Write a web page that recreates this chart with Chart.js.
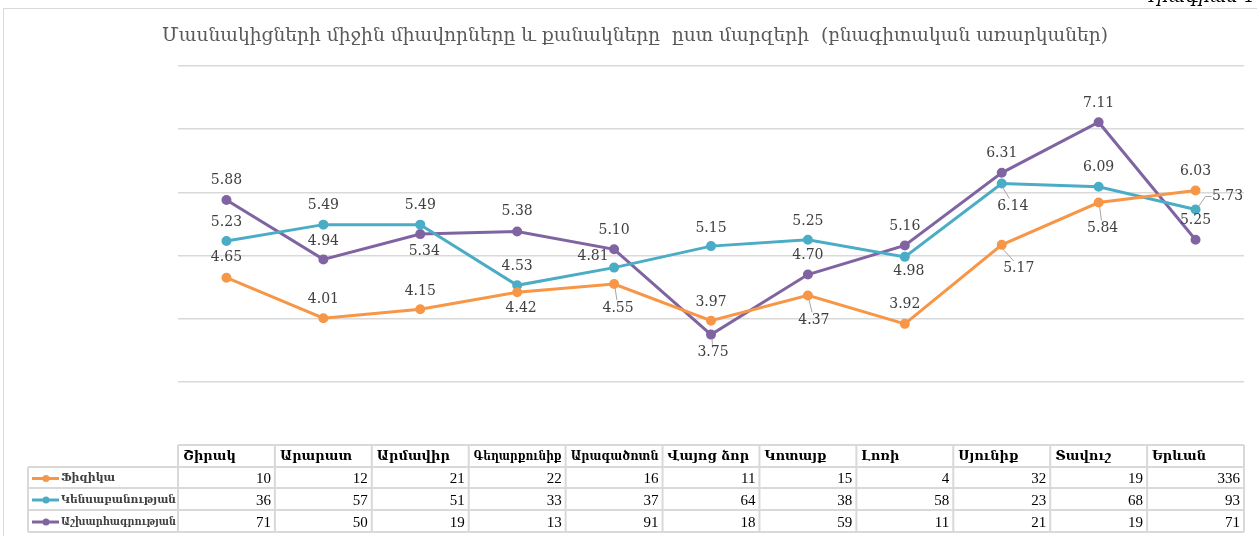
<!DOCTYPE html>
<html>
<head>
<meta charset="utf-8">
<script src="https://cdn.jsdelivr.net/npm/chart.js@4/dist/chart.umd.min.js"></script>
<style>
  body { margin: 0; background: #fff; }
  canvas { display: block; }
</style>
</head>
<body>
<canvas id="chart" width="1257" height="536"></canvas>
<script>
'use strict'

/* ------------------------------ Data ------------------------------ */

const chartTitle = 'Մասնակիցների միջին միավորները և քանակները  ըստ մարզերի  (բնագիտական առարկաներ)'
const caption = 'Դիագրամ 1'

const regions = ['Շիրակ', 'Արարատ', 'Արմավիր', 'Գեղարքունիք', 'Արագածոտն', 'Վայոց ձոր', 'Կոտայք', 'Լոռի', 'Սյունիք', 'Տավուշ', 'Երևան']
const subjects = ['Ֆիզիկա', 'Կենսաբանության', 'Աշխարհագրության']

// average scores (lines)
const physicsScores = [4.65, 4.01, 4.15, 4.42, 4.55, 3.97, 4.37, 3.92, 5.17, 5.84, 6.03]
const biologyScores = [5.23, 5.49, 5.49, 4.53, 4.81, 5.15, 5.25, 4.98, 6.14, 6.09, 5.73]
const geographyScores = [5.88, 4.94, 5.34, 5.38, 5.10, 3.75, 4.70, 5.16, 6.31, 7.11, 5.25]

// participant counts (data table)
const physicsCounts = [10, 12, 21, 22, 16, 11, 15, 4, 32, 19, 336]
const biologyCounts = [36, 57, 51, 33, 37, 64, 38, 58, 23, 68, 93]
const geographyCounts = [71, 50, 19, 13, 91, 18, 59, 11, 21, 19, 71]

const yTicks = [3, 4, 5, 6, 7, 8]

/* ------------------------------ Styles ------------------------------ */

const colors = ['#F79646', '#4BACC6', '#8064A2']
const gridColor = '#d9d9d9'
const textColor = '#404040'

// label offset from its point: [dx, dy, leader line]
const physicsLabelPos = [[0, -20], [0, -19], [0, -18], [4, 16], [4, 24, 1], [0, -18], [6, 25, 1], [0, -19], [17, 24, 1], [4, 26, 1], [0, -19]]
const biologyLabelPos = [[0, -19], [0, -19], [0, -19], [0, -19], [-21, -11], [0, -18], [0, -18], [4, 14], [11, 23, 1], [0, -19], [32, -13, 1]]
const geographyLabelPos = [[0, -20], [0, -18], [4, 17], [0, -20], [0, -19], [2, 18, 1], [0, -19], [0, -19], [0, -19], [0, -19], [0, -19]]

const labelPositions = [physicsLabelPos, biologyLabelPos, geographyLabelPos]
const tableCounts = [physicsCounts, biologyCounts, geographyCounts]

// table rows: header top, row lines, bottom
const rowLines = [445, 467, 488, 510, 532]
const legendLeft = 28

/* ------------------------------ Drawing helpers ------------------------------ */

function line (ctx, x1, y1, x2, y2) {
  ctx.beginPath()
  ctx.moveTo(x1, y1)
  ctx.lineTo(x2, y2)
  ctx.stroke()
}

function drawFrame (chart) {
  const ctx = chart.ctx
  ctx.save()
  ctx.fillStyle = '#fff'
  ctx.fillRect(0, 0, chart.width, chart.height)
  ctx.strokeStyle = gridColor
  ctx.lineWidth = 1
  ctx.strokeRect(3.5, 8.5, chart.width + 10, chart.height + 10)

  ctx.fillStyle = '#000'
  ctx.font = 'italic 18px "DejaVu Serif", serif'
  ctx.textBaseline = 'alphabetic'
  ctx.fillText(caption, 1142, 2)

  ctx.fillStyle = '#595959'
  ctx.font = '19px "DejaVu Serif", serif'
  ctx.textAlign = 'center'
  ctx.textBaseline = 'middle'
  ctx.fillText(chartTitle, 635, 36, 946)
  ctx.restore()
}

function drawValueLabels (chart) {
  const ctx = chart.ctx
  ctx.save()
  ctx.font = '14px "DejaVu Serif", serif'
  ctx.textAlign = 'center'
  ctx.textBaseline = 'middle'
  chart.data.datasets.forEach((ds, di) => {
    const meta = chart.getDatasetMeta(di)
    meta.data.forEach((pt, i) => {
      const [dx, dy, leader] = labelPositions[di][i]
      const lx = pt.x + dx
      const ly = pt.y + dy
      if (leader) {
        ctx.strokeStyle = '#a6a6a6'
        ctx.lineWidth = 1
        if (Math.abs(dx) > 20) {
          const edge = lx - 16
          ctx.beginPath()
          ctx.moveTo(pt.x + 3, pt.y - 3)
          ctx.lineTo(edge - 6, ly)
          ctx.lineTo(edge, ly)
          ctx.stroke()
        } else {
          const s = Math.sign(dy)
          line(ctx, pt.x + s, pt.y + s * 4, lx - dx * 0.3, ly - s * 8)
        }
      }
      ctx.fillStyle = textColor
      ctx.fillText(ds.data[i].toFixed(2), lx, ly)
    })
  })
  ctx.restore()
}

function drawDataTable (chart) {
  const ctx = chart.ctx
  const x = chart.scales.x
  const step = x.getPixelForValue(1) - x.getPixelForValue(0)
  const left = x.getPixelForValue(0) - step / 2
  const right = x.getPixelForValue(regions.length - 1) + step / 2

  ctx.save()
  ctx.strokeStyle = gridColor
  ctx.lineWidth = 2
  line(ctx, left, rowLines[0], right, rowLines[0])
  for (let r = 1; r < rowLines.length; r++) {
    line(ctx, legendLeft, rowLines[r], right, rowLines[r])
  }
  for (let i = 0; i <= regions.length; i++) {
    line(ctx, left + i * step, rowLines[0], left + i * step, rowLines[4])
  }
  line(ctx, legendLeft, rowLines[1], legendLeft, rowLines[4])

  // header
  ctx.fillStyle = '#000'
  ctx.textBaseline = 'middle'
  ctx.font = 'bold 13px "DejaVu Serif", serif'
  ctx.textAlign = 'left'
  regions.forEach((name, i) => {
    ctx.fillText(name, left + i * step + 5, (rowLines[0] + rowLines[1]) / 2 + 1, step - 9)
  })

  // rows
  subjects.forEach((name, r) => {
    const cy = (rowLines[r + 1] + rowLines[r + 2]) / 2 + 1

    ctx.strokeStyle = colors[r]
    ctx.lineWidth = 3
    line(ctx, legendLeft + 4, cy, legendLeft + 31, cy)
    ctx.fillStyle = colors[r]
    ctx.beginPath()
    ctx.arc(legendLeft + 18, cy, 3.5, 0, Math.PI * 2)
    ctx.fill()

    ctx.fillStyle = textColor
    ctx.font = 'bold 11px "DejaVu Serif", serif'
    ctx.textAlign = 'left'
    ctx.fillText(name, legendLeft + 33, cy, left - legendLeft - 35)

    ctx.fillStyle = '#000'
    ctx.font = '15px "Liberation Serif", serif'
    ctx.textAlign = 'right'
    tableCounts[r].forEach((v, i) => {
      ctx.fillText(String(v), left + (i + 1) * step - 4, cy + 1)
    })
  })
  ctx.restore()
}

const sheetPlugin = {
  id: 'sheet',
  beforeDraw: drawFrame,
  afterDatasetsDraw: drawValueLabels,
  afterDraw: drawDataTable
}

/* ------------------------------ Chart ------------------------------ */

const scoreSeries = [physicsScores, biologyScores, geographyScores]

const chart = new Chart(document.getElementById('chart'), {
  type: 'line',
  data: {
    labels: regions,
    datasets: scoreSeries.map((data, i) => ({
      label: subjects[i],
      data: data,
      borderColor: colors[i],
      backgroundColor: colors[i],
      pointBackgroundColor: colors[i],
      pointBorderColor: colors[i],
      borderWidth: 3,
      pointRadius: 3.5,
      tension: 0,
      fill: false
    }))
  },
  options: {
    responsive: false,
    animation: false,
    layout: {
      autoPadding: false,
      padding: { left: 178, right: 13, top: 66, bottom: 154 }
    },
    plugins: {
      legend: { display: false },
      title: { display: false },
      tooltip: { enabled: false }
    },
    scales: {
      x: {
        offset: true,
        grid: { display: false },
        border: { display: false },
        ticks: { display: false },
        afterFit: s => { s.height = 0 }
      },
      y: {
        min: yTicks[0],
        max: yTicks[yTicks.length - 1],
        ticks: { display: false, stepSize: 1 },
        grid: { color: gridColor, lineWidth: 1.5, drawTicks: false },
        border: { display: false },
        afterFit: s => { s.width = 0 }
      }
    }
  },
  plugins: [sheetPlugin]
})
</script>
</body>
</html>
